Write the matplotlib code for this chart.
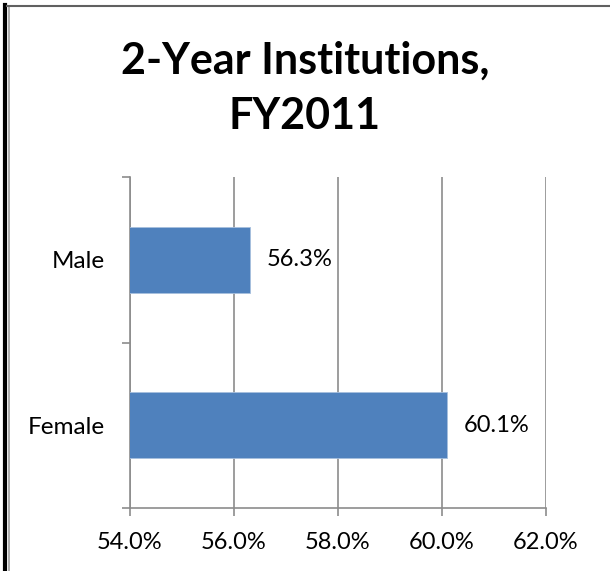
import matplotlib
matplotlib.use("Agg")
import matplotlib.pyplot as plt
from matplotlib.lines import Line2D
from matplotlib.ticker import FixedLocator, FuncFormatter

# Data
categories = ["Female", "Male"]
values = [60.1, 56.3]
labels = ["60.1%", "56.3%"]
x_ticks = [54, 56, 58, 60, 62]

bar_color = "#4F81BD"
axis_gray = "#8C8C8C"

plt.rcParams["font.family"] = ["Lato", "DejaVu Sans"]

fig = plt.figure(figsize=(6.10, 5.71), dpi=100)
ax = fig.add_axes([130 / 610, 1 - 508 / 571, 416 / 610, 331 / 571])

y = list(range(len(categories)))
ax.barh(y, values, height=0.4, color=bar_color, edgecolor="#A7BFDE", linewidth=0.6, zorder=3)

ax.set_xlim(54, 62)
ax.set_ylim(-0.5, len(categories) - 0.5)

# x axis
ax.xaxis.set_major_locator(FixedLocator(x_ticks))
ax.xaxis.set_major_formatter(FuncFormatter(lambda v, p: "%.1f%%" % v))
ax.tick_params(axis="x", which="major", direction="out", length=6, width=1.2,
               color=axis_gray, labelsize=17, pad=11)
ax.grid(axis="x", color=axis_gray, linewidth=1.2, zorder=0)

# y axis: labels centred, tick marks between categories
ax.set_yticks(y)
ax.set_yticklabels(categories)
ax.yaxis.set_minor_locator(FixedLocator([-0.5, 0.5, 1.5]))
ax.tick_params(axis="y", which="major", length=0, labelsize=17.5, pad=18)
ax.tick_params(axis="y", which="minor", direction="out", length=6, width=1.2, color=axis_gray)

for s in ["top", "right"]:
    ax.spines[s].set_visible(False)
for s in ["left", "bottom"]:
    ax.spines[s].set_color(axis_gray)
    ax.spines[s].set_linewidth(1.2)

# data labels
for yi, v, lab in zip(y, values, labels):
    ax.annotate(lab, xy=(v, yi), xytext=(12, 0), textcoords="offset points",
                va="center", ha="left", fontsize=17)

fig.text(0.5, 1 - 61 / 571, "2-Year Institutions,", ha="center", va="center",
         fontsize=31, fontweight="bold")
fig.text(0.5, 1 - 116 / 571, "FY2011", ha="center", va="center",
         fontsize=31, fontweight="bold")

# outer border (left and top)
fig.add_artist(Line2D([5 / 610, 5 / 610], [0, 1 - 5 / 571], transform=fig.transFigure,
                      color="black", linewidth=3))
fig.add_artist(Line2D([8.5 / 610, 8.5 / 610], [0, 1 - 6 / 571], transform=fig.transFigure,
                      color="#A0A0A0", linewidth=1.2))
fig.add_artist(Line2D([7 / 610, 1], [1 - 5.5 / 571, 1 - 5.5 / 571], transform=fig.transFigure,
                      color="#606060", linewidth=1.5))

fig.savefig("out.png", dpi=100)
